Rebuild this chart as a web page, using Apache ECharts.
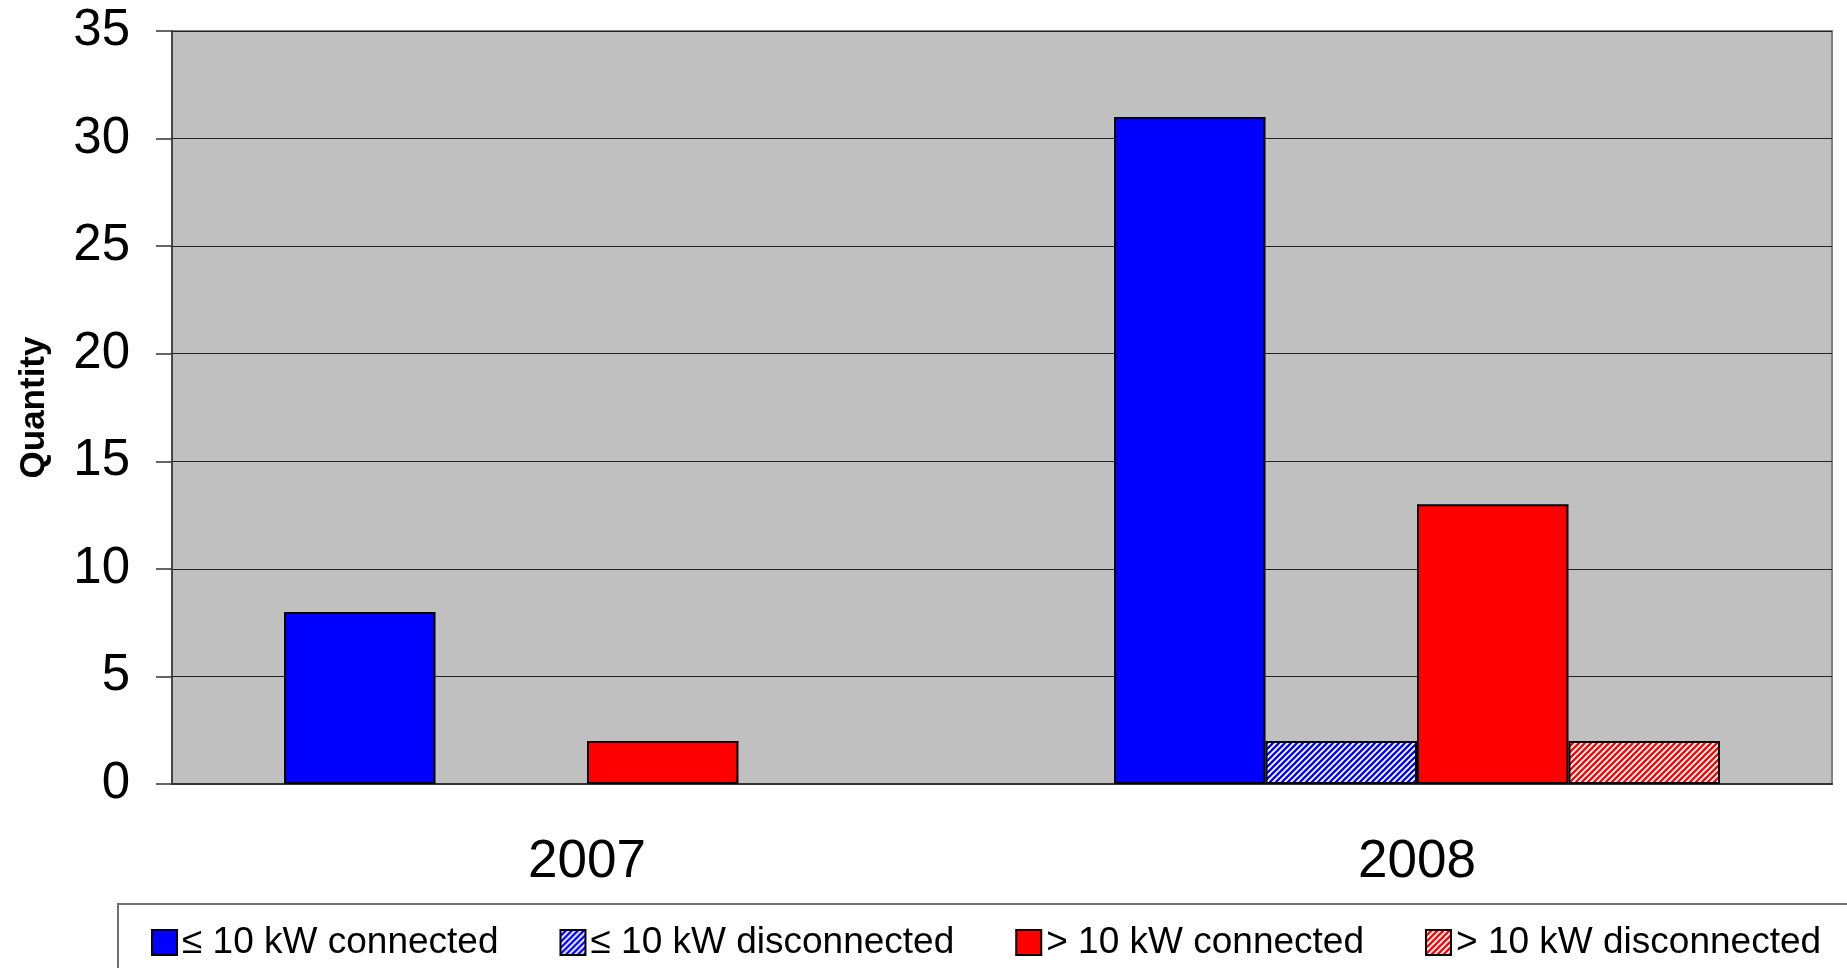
<!DOCTYPE html>
<html>
<head>
<meta charset="utf-8">
<script src="https://cdn.jsdelivr.net/npm/echarts@6/dist/echarts.min.js"></script>
<style>
  html, body { margin: 0; padding: 0; background: #fff; }
  #chart { width: 1847px; height: 968px; }
</style>
</head>
<body>
<div id="chart"></div>
<script>
var categories = ['2007', '2008'];
var le10Connected = [8, 31];
var le10Disconnected = [null, 2];
var gt10Connected = [2, 13];
var gt10Disconnected = [null, 2];
var seriesNames = ['≤ 10 kW connected', '≤ 10 kW disconnected', '> 10 kW connected', '> 10 kW disconnected'];

// diagonal hatch tile for the "disconnected" bars
function hatch(color) {
  var n = 6;
  var c = document.createElement('canvas');
  c.width = n;
  c.height = n;
  var g = c.getContext('2d');
  g.fillStyle = '#ffffff';
  g.fillRect(0, 0, n, n);
  g.strokeStyle = color;
  g.lineWidth = 2.3;
  g.beginPath();
  g.moveTo(0, n); g.lineTo(n, 0);
  g.moveTo(-n / 2, n / 2); g.lineTo(n / 2, -n / 2);
  g.moveTo(n / 2, n * 1.5); g.lineTo(n * 1.5, n / 2);
  g.stroke();
  return c;
}

var dom = document.getElementById('chart');
var myChart = echarts.init(dom, null, { renderer: 'canvas' });
var font = 'Liberation Sans';

function barSeries(name, data, color) {
  return {
    name: name,
    type: 'bar',
    data: data,
    barGap: '0%',
    barCategoryGap: '27%',
    itemStyle: {
      color: color,
      borderColor: '#000',
      borderWidth: 2
    }
  };
}

var option = {
  animation: false,
  textStyle: { fontFamily: font },
  grid: {
    left: 172,
    right: 15,
    top: 31,
    bottom: 184,
    show: true,
    backgroundColor: '#c0c0c0',
    borderColor: '#808080',
    borderWidth: 2
  },
  legend: {
    left: 146,
    top: 919,
    itemWidth: 25,
    itemHeight: 25,
    itemGap: 61,
    icon: 'rect',
    textStyle: { fontSize: 37, color: '#000', fontFamily: font },
    data: seriesNames
  },
  graphic: [{
    type: 'rect',
    shape: { x: 118, y: 904, width: 1800, height: 200 },
    style: { fill: null, stroke: '#707070', lineWidth: 2 },
    silent: true
  }],
  xAxis: {
    type: 'category',
    data: categories,
    axisLine: { lineStyle: { color: '#333', width: 2 } },
    axisTick: { length: 16, lineStyle: { color: '#333', width: 1.5 } },
    axisLabel: { fontSize: 53, color: '#000', margin: 52, fontFamily: font },
    splitLine: { show: false }
  },
  yAxis: {
    type: 'value',
    min: 0,
    max: 35,
    interval: 5,
    name: 'Quantity',
    nameLocation: 'middle',
    nameGap: 120,
    nameTextStyle: { fontSize: 35, fontWeight: 'bold', color: '#000', fontFamily: font },
    axisLine: { show: true, lineStyle: { color: '#333', width: 1.5 } },
    axisTick: { show: true, length: 16, lineStyle: { color: '#333', width: 1.5 } },
    axisLabel: { fontSize: 51, color: '#000', margin: 42, fontFamily: font },
    splitLine: { lineStyle: { color: '#222', width: 1 } }
  },
  series: [
    barSeries(seriesNames[0], le10Connected, '#0000ff'),
    barSeries(seriesNames[1], le10Disconnected, { image: hatch('#0000ff'), repeat: 'repeat' }),
    barSeries(seriesNames[2], gt10Connected, '#ff0000'),
    barSeries(seriesNames[3], gt10Disconnected, { image: hatch('#ff0000'), repeat: 'repeat' })
  ]
};

myChart.setOption(option);
</script>
</body>
</html>
